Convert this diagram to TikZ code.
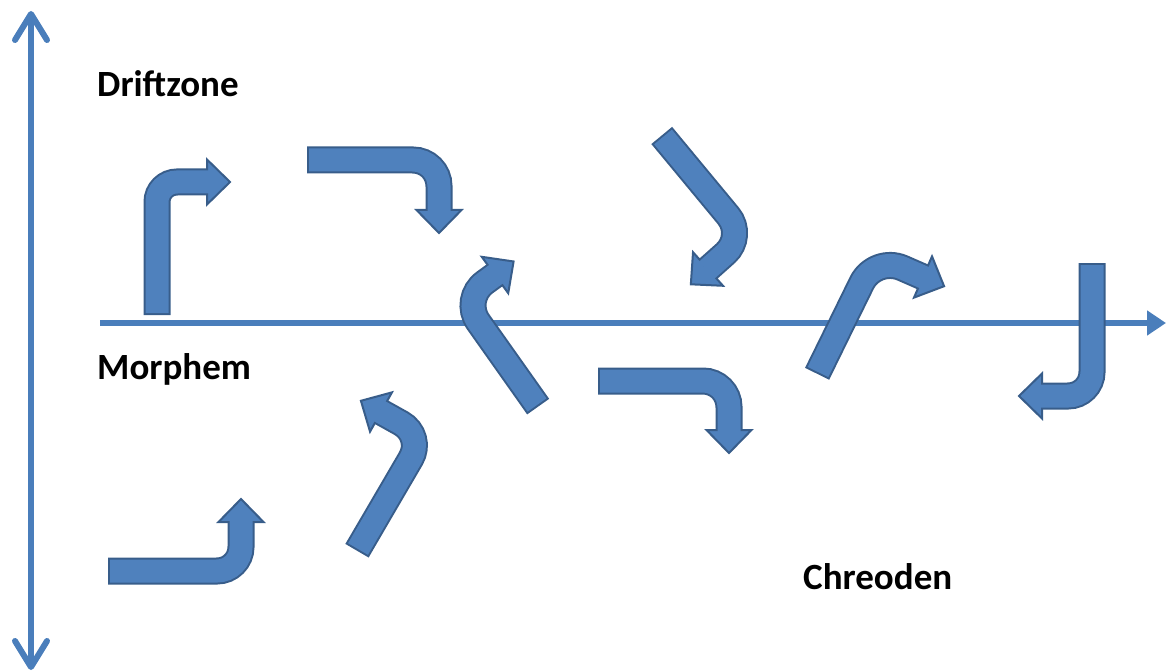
\documentclass[tikz,border=0pt]{standalone}
\usepackage{fontspec}
\setmainfont{Carlito}
\usetikzlibrary{calc,arrows.meta}
\definecolor{afill}{HTML}{4F81BD}
\definecolor{aedge}{HTML}{385D8A}
\definecolor{axiscol}{HTML}{4A7EBB}
\tikzset{
  lbl/.style={font=\fontsize{37}{40}\selectfont\bfseries, text=black, inner sep=0pt, anchor=base west},
  axisline/.style={draw=axiscol, line width=6pt},
  barb/.style={draw=axiscol, line width=6pt, line cap=round, line join=round},
  arredge/.style={draw=aedge, line width=27pt},
  arrfill/.style={draw=afill, line width=23pt},
  arrhead/.style={fill=afill, draw=aedge, line width=2pt, line join=miter}
}
% #1 start, #2 corner, #3 head base centre, #4 corner radius
\newcommand\bentarr[4]{%
  \coordinate (bs) at #1;
  \coordinate (bc) at #2;
  \coordinate (be) at #3;
  \coordinate (bt) at ($(be)!-23pt!(bc)$);
  \coordinate (b1) at ($(be)!22.5pt!90:(bc)$);
  \coordinate (b2) at ($(be)!22.5pt!-90:(bc)$);
  \draw[arredge, rounded corners=#4, shorten <=-2pt] (bs) -- (bc) -- (be);
  \filldraw[arrhead] (b1) -- (bt) -- (b2) -- cycle;
  \draw[arrfill, rounded corners=#4, shorten >=-2pt] (bs) -- (bc) -- (be);
}
\begin{document}
\begin{tikzpicture}[x=1pt,y=-1pt]
\path[use as bounding box] (0,0) rectangle (1167,671);
% axes
\coordinate (vtop) at (31,14);
\coordinate (vbot) at (31,667);
\coordinate (vtl) at (15,40);
\coordinate (vtr) at (47,40);
\coordinate (vbl) at (15,641);
\coordinate (vbr) at (47,641);
\draw[axisline] (vtop) -- (vbot);
\draw[barb] (vtl) -- (vtop) -- (vtr);
\draw[barb] (vbl) -- (vbot) -- (vbr);
\coordinate (hl) at (100,323);
\coordinate (hr) at (1166,323);
\draw[axisline, -{Triangle[length=19pt,width=24pt]}] (hl) -- (hr);
% labels
\node[lbl] (drift) at (97,97) {Driftzone};
\node[lbl] (morph) at (97,379) {Morphem};
\node[lbl] (chreo) at (803,589) {Chreoden};
% bent arrows
\bentarr{(157,313)}{(157,182)}{(207,182)}{20}
\bentarr{(309,160)}{(439,160)}{(439,210)}{26}
\bentarr{(537,405)}{(462,299)}{(495,275)}{28}
\bentarr{(663,137)}{(745,236)}{(708,269)}{26}
\bentarr{(818,372)}{(875,256)}{(923,277)}{30}
\bentarr{(1092,265)}{(1092,396)}{(1042,396)}{24}
\bentarr{(110,571)}{(241,571)}{(241,522)}{24}
\bentarr{(358,549)}{(424,436)}{(381,412)}{26}
\bentarr{(600,381)}{(729,381)}{(729,430)}{26}
\end{tikzpicture}
\end{document}
